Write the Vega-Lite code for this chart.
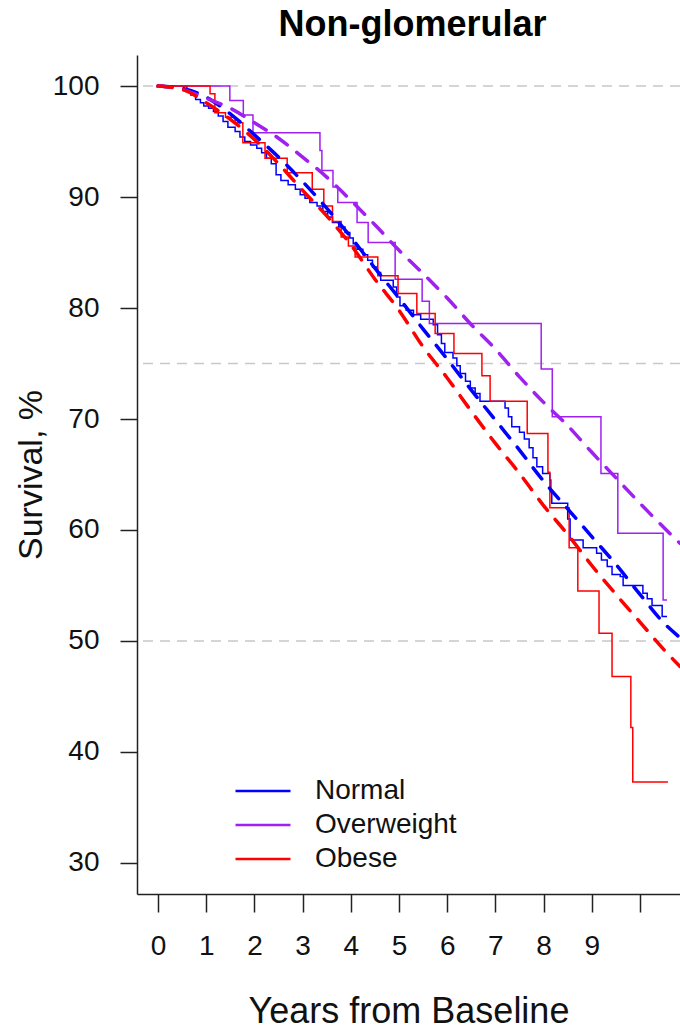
{
  "$schema": "https://vega.github.io/schema/vega-lite/v6.json",
  "width": 543,
  "height": 839,
  "autosize": {"type": "none"},
  "padding": {"left": 137, "top": 55, "right": 0, "bottom": 135},
  "background": "white",
  "config": {"font": "Liberation Sans", "view": {"stroke": null}},
  "title": {"text": "Non-glomerular", "fontSize": 36, "fontWeight": "bold", "font": "Liberation Sans", "color": "#000000", "anchor": "middle", "offset": 11, "dx": 4},
  "datasets": {
    "ref": [{"s": 100}, {"s": 75}, {"s": 50}],
    "km": [
      {"g": "Normal", "t": 0, "s": 100}, {"g": "Normal", "t": 0.6, "s": 99.6}, {"g": "Normal", "t": 0.68, "s": 99.2}, {"g": "Normal", "t": 0.78, "s": 98.8}, {"g": "Normal", "t": 0.88, "s": 98.5}, {"g": "Normal", "t": 0.95, "s": 98.2}, {"g": "Normal", "t": 1.05, "s": 98.0}, {"g": "Normal", "t": 1.15, "s": 97.7}, {"g": "Normal", "t": 1.25, "s": 97.3}, {"g": "Normal", "t": 1.35, "s": 96.8}, {"g": "Normal", "t": 1.45, "s": 96.3}, {"g": "Normal", "t": 1.6, "s": 95.9}, {"g": "Normal", "t": 1.7, "s": 95.4}, {"g": "Normal", "t": 1.8, "s": 95.0}, {"g": "Normal", "t": 1.92, "s": 94.7}, {"g": "Normal", "t": 2.05, "s": 94.4}, {"g": "Normal", "t": 2.15, "s": 94.0}, {"g": "Normal", "t": 2.25, "s": 93.5}, {"g": "Normal", "t": 2.35, "s": 93.0}, {"g": "Normal", "t": 2.45, "s": 92.0}, {"g": "Normal", "t": 2.55, "s": 91.5}, {"g": "Normal", "t": 2.7, "s": 91.1}, {"g": "Normal", "t": 2.85, "s": 90.7}, {"g": "Normal", "t": 2.95, "s": 90.2}, {"g": "Normal", "t": 3.05, "s": 89.9}, {"g": "Normal", "t": 3.15, "s": 89.5}, {"g": "Normal", "t": 3.3, "s": 89.2}, {"g": "Normal", "t": 3.42, "s": 88.7}, {"g": "Normal", "t": 3.52, "s": 88.2}, {"g": "Normal", "t": 3.62, "s": 87.7}, {"g": "Normal", "t": 3.75, "s": 87.3}, {"g": "Normal", "t": 3.88, "s": 86.8}, {"g": "Normal", "t": 3.98, "s": 86.3}, {"g": "Normal", "t": 4.05, "s": 85.8}, {"g": "Normal", "t": 4.13, "s": 85.3}, {"g": "Normal", "t": 4.25, "s": 84.8}, {"g": "Normal", "t": 4.35, "s": 84.3}, {"g": "Normal", "t": 4.45, "s": 83.7}, {"g": "Normal", "t": 4.55, "s": 83.2}, {"g": "Normal", "t": 4.62, "s": 82.5}, {"g": "Normal", "t": 4.88, "s": 81.9}, {"g": "Normal", "t": 4.95, "s": 81.0}, {"g": "Normal", "t": 5.02, "s": 80.2}, {"g": "Normal", "t": 5.15, "s": 79.8}, {"g": "Normal", "t": 5.3, "s": 79.4}, {"g": "Normal", "t": 5.45, "s": 79.0}, {"g": "Normal", "t": 5.71, "s": 78.5}, {"g": "Normal", "t": 5.8, "s": 77.6}, {"g": "Normal", "t": 5.88, "s": 76.8}, {"g": "Normal", "t": 5.95, "s": 76.0}, {"g": "Normal", "t": 6.12, "s": 75.5}, {"g": "Normal", "t": 6.2, "s": 74.8}, {"g": "Normal", "t": 6.27, "s": 74.1}, {"g": "Normal", "t": 6.38, "s": 73.4}, {"g": "Normal", "t": 6.48, "s": 72.8}, {"g": "Normal", "t": 6.58, "s": 72.3}, {"g": "Normal", "t": 6.68, "s": 71.6}, {"g": "Normal", "t": 7.2, "s": 71.0}, {"g": "Normal", "t": 7.27, "s": 70.2}, {"g": "Normal", "t": 7.34, "s": 69.3}, {"g": "Normal", "t": 7.5, "s": 68.8}, {"g": "Normal", "t": 7.6, "s": 68.2}, {"g": "Normal", "t": 7.7, "s": 67.4}, {"g": "Normal", "t": 7.78, "s": 66.5}, {"g": "Normal", "t": 7.86, "s": 65.7}, {"g": "Normal", "t": 7.98, "s": 65.1}, {"g": "Normal", "t": 8.13, "s": 64.5}, {"g": "Normal", "t": 8.15, "s": 63.4}, {"g": "Normal", "t": 8.17, "s": 62.4}, {"g": "Normal", "t": 8.5, "s": 61.0}, {"g": "Normal", "t": 8.55, "s": 59.1}, {"g": "Normal", "t": 8.82, "s": 58.4}, {"g": "Normal", "t": 9.1, "s": 57.9}, {"g": "Normal", "t": 9.2, "s": 57.3}, {"g": "Normal", "t": 9.32, "s": 56.7}, {"g": "Normal", "t": 9.42, "s": 56.0}, {"g": "Normal", "t": 9.59, "s": 55.8}, {"g": "Normal", "t": 9.65, "s": 55.0}, {"g": "Normal", "t": 10.06, "s": 54.3}, {"g": "Normal", "t": 10.15, "s": 53.8}, {"g": "Normal", "t": 10.25, "s": 53.2}, {"g": "Normal", "t": 10.46, "s": 52.2}, {"g": "Normal", "t": 10.56, "s": 52.2},
      {"g": "Overweight", "t": 0, "s": 100}, {"g": "Overweight", "t": 1.49, "s": 98.7}, {"g": "Overweight", "t": 1.77, "s": 97.4}, {"g": "Overweight", "t": 1.97, "s": 95.8}, {"g": "Overweight", "t": 3.36, "s": 94.2}, {"g": "Overweight", "t": 3.4, "s": 92.4}, {"g": "Overweight", "t": 3.63, "s": 90.9}, {"g": "Overweight", "t": 3.73, "s": 89.5}, {"g": "Overweight", "t": 4.13, "s": 87.7}, {"g": "Overweight", "t": 4.36, "s": 85.9}, {"g": "Overweight", "t": 4.92, "s": 82.6}, {"g": "Overweight", "t": 5.48, "s": 80.6}, {"g": "Overweight", "t": 5.63, "s": 78.6}, {"g": "Overweight", "t": 7.95, "s": 74.5}, {"g": "Overweight", "t": 8.18, "s": 70.2}, {"g": "Overweight", "t": 9.19, "s": 65.1}, {"g": "Overweight", "t": 9.54, "s": 59.7}, {"g": "Overweight", "t": 10.48, "s": 53.7}, {"g": "Overweight", "t": 10.56, "s": 53.7},
      {"g": "Obese", "t": 0, "s": 100}, {"g": "Obese", "t": 1.08, "s": 99.3}, {"g": "Obese", "t": 1.18, "s": 97.6}, {"g": "Obese", "t": 1.4, "s": 97.2}, {"g": "Obese", "t": 1.6, "s": 96.7}, {"g": "Obese", "t": 1.76, "s": 94.9}, {"g": "Obese", "t": 2.22, "s": 93.5}, {"g": "Obese", "t": 2.68, "s": 92.2}, {"g": "Obese", "t": 3.2, "s": 90.7}, {"g": "Obese", "t": 3.44, "s": 89.2}, {"g": "Obese", "t": 3.62, "s": 87.8}, {"g": "Obese", "t": 3.8, "s": 86.4}, {"g": "Obese", "t": 3.95, "s": 85.6}, {"g": "Obese", "t": 4.09, "s": 84.6}, {"g": "Obese", "t": 4.56, "s": 82.9}, {"g": "Obese", "t": 4.98, "s": 81.3}, {"g": "Obese", "t": 5.37, "s": 79.5}, {"g": "Obese", "t": 5.75, "s": 77.7}, {"g": "Obese", "t": 6.14, "s": 75.9}, {"g": "Obese", "t": 6.72, "s": 73.9}, {"g": "Obese", "t": 6.89, "s": 71.6}, {"g": "Obese", "t": 7.66, "s": 68.7}, {"g": "Obese", "t": 8.09, "s": 65.2}, {"g": "Obese", "t": 8.13, "s": 62.0}, {"g": "Obese", "t": 8.53, "s": 58.4}, {"g": "Obese", "t": 8.71, "s": 54.5}, {"g": "Obese", "t": 9.15, "s": 50.7}, {"g": "Obese", "t": 9.42, "s": 46.8}, {"g": "Obese", "t": 9.81, "s": 42.2}, {"g": "Obese", "t": 9.85, "s": 37.3}, {"g": "Obese", "t": 10.58, "s": 37.3}
    ],
    "fit": [
      {"g": "Normal", "t": 0, "s": 100}, {"g": "Normal", "t": 0.5, "s": 99.8}, {"g": "Normal", "t": 1, "s": 99.0}, {"g": "Normal", "t": 1.5, "s": 97.5}, {"g": "Normal", "t": 2, "s": 95.6}, {"g": "Normal", "t": 2.5, "s": 93.6}, {"g": "Normal", "t": 3, "s": 91.4}, {"g": "Normal", "t": 3.5, "s": 89.0}, {"g": "Normal", "t": 4, "s": 86.4}, {"g": "Normal", "t": 4.5, "s": 83.6}, {"g": "Normal", "t": 5, "s": 80.9}, {"g": "Normal", "t": 5.5, "s": 78.1}, {"g": "Normal", "t": 6, "s": 75.4}, {"g": "Normal", "t": 6.5, "s": 72.6}, {"g": "Normal", "t": 7, "s": 69.9}, {"g": "Normal", "t": 7.5, "s": 67.2}, {"g": "Normal", "t": 8, "s": 64.4}, {"g": "Normal", "t": 8.5, "s": 61.9}, {"g": "Normal", "t": 9, "s": 59.4}, {"g": "Normal", "t": 9.5, "s": 56.9}, {"g": "Normal", "t": 10, "s": 54.2}, {"g": "Normal", "t": 10.5, "s": 51.6}, {"g": "Normal", "t": 10.83, "s": 50.3},
      {"g": "Overweight", "t": 0, "s": 100}, {"g": "Overweight", "t": 0.5, "s": 99.7}, {"g": "Overweight", "t": 1, "s": 98.9}, {"g": "Overweight", "t": 1.5, "s": 98.0}, {"g": "Overweight", "t": 2, "s": 96.7}, {"g": "Overweight", "t": 2.5, "s": 95.3}, {"g": "Overweight", "t": 3, "s": 93.6}, {"g": "Overweight", "t": 3.5, "s": 91.8}, {"g": "Overweight", "t": 4, "s": 89.7}, {"g": "Overweight", "t": 4.5, "s": 87.5}, {"g": "Overweight", "t": 5, "s": 85.2}, {"g": "Overweight", "t": 5.5, "s": 83.1}, {"g": "Overweight", "t": 6, "s": 80.9}, {"g": "Overweight", "t": 6.5, "s": 78.5}, {"g": "Overweight", "t": 7, "s": 76.3}, {"g": "Overweight", "t": 7.5, "s": 73.8}, {"g": "Overweight", "t": 8, "s": 71.5}, {"g": "Overweight", "t": 8.5, "s": 69.4}, {"g": "Overweight", "t": 9, "s": 67.0}, {"g": "Overweight", "t": 9.5, "s": 64.7}, {"g": "Overweight", "t": 10, "s": 62.4}, {"g": "Overweight", "t": 10.5, "s": 60.2}, {"g": "Overweight", "t": 10.83, "s": 58.8},
      {"g": "Obese", "t": 0, "s": 100}, {"g": "Obese", "t": 0.5, "s": 99.7}, {"g": "Obese", "t": 1, "s": 98.5}, {"g": "Obese", "t": 1.5, "s": 97.0}, {"g": "Obese", "t": 2, "s": 95.2}, {"g": "Obese", "t": 2.5, "s": 93.0}, {"g": "Obese", "t": 3, "s": 90.6}, {"g": "Obese", "t": 3.5, "s": 88.3}, {"g": "Obese", "t": 4, "s": 85.7}, {"g": "Obese", "t": 4.5, "s": 82.6}, {"g": "Obese", "t": 5, "s": 79.8}, {"g": "Obese", "t": 5.5, "s": 76.5}, {"g": "Obese", "t": 6, "s": 73.7}, {"g": "Obese", "t": 6.5, "s": 70.7}, {"g": "Obese", "t": 7, "s": 67.8}, {"g": "Obese", "t": 7.5, "s": 65.1}, {"g": "Obese", "t": 8, "s": 62.2}, {"g": "Obese", "t": 8.5, "s": 59.6}, {"g": "Obese", "t": 9, "s": 56.8}, {"g": "Obese", "t": 9.5, "s": 54.2}, {"g": "Obese", "t": 10, "s": 51.7}, {"g": "Obese", "t": 10.5, "s": 49.2}, {"g": "Obese", "t": 10.83, "s": 47.7}
    ]
  },
  "layer": [
    {
      "data": {"name": "ref"},
      "mark": {"type": "rule", "color": "#c8c8c8", "strokeDash": [10, 7], "strokeWidth": 1.5},
      "encoding": {"y": {"field": "s", "type": "quantitative", "scale": {"domain": [27.2, 102.8], "nice": false, "zero": false},
        "axis": {"values": [30, 40, 50, 60, 70, 80, 90, 100], "grid": false,
            "title": "Survival, %", "titleFontSize": 34, "titleFontWeight": "normal", "titleColor": "#111111", "titleX": -106, "titleBaseline": "middle",
            "tickSize": 17, "tickWidth": 1.5, "tickColor": "#222222", "domainColor": "#222222", "domainWidth": 1.5,
            "labelFontSize": 28, "labelPadding": 21, "labelColor": "#111111", "labelFlush": false, "labelOverlap": false}}}
    },
    {
      "mark": {"type": "rule", "color": "#222222", "strokeWidth": 1.5},
      "encoding": {"y": {"datum": 102.8, "type": "quantitative"}}
    },
    {
      "data": {"name": "km"},
      "mark": {"type": "line", "interpolate": "step-after", "strokeWidth": 1.5, "clip": true},
      "encoding": {
        "x": {"field": "t", "type": "quantitative", "scale": {"domain": [-0.436, 10.83], "nice": false, "zero": false},
          "axis": {"values": [0, 1, 2, 3, 4, 5, 6, 7, 8, 9, 10], "labelExpr": "datum.value == 10 ? '' : datum.label", "grid": false,
            "title": "Years from Baseline", "titleFontSize": 36, "titleFontWeight": "normal", "titleColor": "#111111", "titleY": 128, "titleBaseline": "alphabetic",
            "tickSize": 18, "tickWidth": 1.5, "tickColor": "#222222", "domainColor": "#222222", "domainWidth": 1.5,
            "labelFontSize": 28, "labelPadding": 20, "labelColor": "#111111", "labelFlush": false, "labelOverlap": false}},
        "y": {"field": "s", "type": "quantitative",
          "axis": {"values": [30, 40, 50, 60, 70, 80, 90, 100], "grid": false,
            "title": "Survival, %", "titleFontSize": 34, "titleFontWeight": "normal", "titleColor": "#111111", "titleX": -106, "titleBaseline": "middle",
            "tickSize": 17, "tickWidth": 1.5, "tickColor": "#222222", "domainColor": "#222222", "domainWidth": 1.5,
            "labelFontSize": 28, "labelPadding": 21, "labelColor": "#111111", "labelFlush": false, "labelOverlap": false}},
        "color": {"field": "g", "type": "nominal",
          "scale": {"domain": ["Normal", "Overweight", "Obese"], "range": ["#0000FF", "#A020F0", "#FF0000"]},
          "legend": {"title": null, "orient": "none", "legendX": 112, "legendY": 722, "symbolType": "M-3,0H3", "symbolSize": 336, "symbolStrokeWidth": 2.5,
            "labelFontSize": 28, "labelFont": "Liberation Sans", "labelColor": "#111111", "labelOffset": 38, "rowPadding": 6, "padding": 0}}
      }
    },
    {
      "data": {"name": "fit"},
      "mark": {"type": "line", "interpolate": "monotone", "strokeWidth": 3.5, "strokeDash": [14, 12], "strokeCap": "round", "clip": true},
      "encoding": {
        "x": {"field": "t", "type": "quantitative"},
        "y": {"field": "s", "type": "quantitative"},
        "color": {"field": "g", "type": "nominal", "legend": null}
      }
    }
  ]
}
